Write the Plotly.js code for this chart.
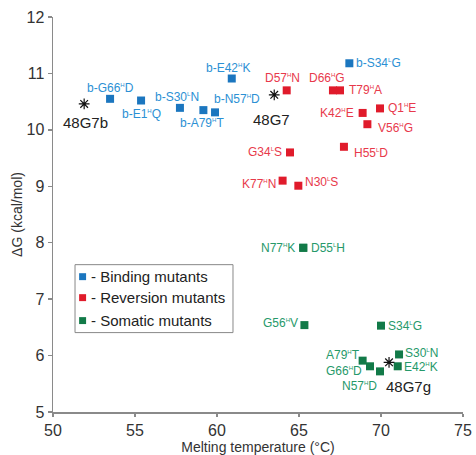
<!DOCTYPE html>
<html>
<head>
<meta charset="utf-8">
<script src="https://cdn.plot.ly/plotly-3.0.1.min.js"></script>
<style>html,body{margin:0;padding:0;background:#fff}#chart{width:476px;height:455px}</style>
</head>
<body>
<div id="chart"></div>
<script>
// ---- data ----
var bindingNames = ["b-G66|H|D","b-E1|H|Q","b-S30|L|N","b-A79|H|T","b-N57|H|D","b-E42|H|K","b-S34|L|G"];
var bindingTm = [53.48, 55.37, 57.74, 59.17, 59.88, 60.9, 68.07];
var bindingDG = [10.55, 10.52, 10.39, 10.35, 10.31, 10.91, 11.18];

var reversionNames = ["D57|H|N","D66|H|G","T79|H|A","K42|H|E","Q1|H|E","V56|H|G","G34|L|S","H55|L|D","K77|H|N","N30|L|S"];
var reversionTm = [64.25, 67.07, 67.5, 68.88, 69.94, 69.17, 64.45, 67.74, 64.0, 64.96];
var reversionDG = [10.70, 10.70, 10.70, 10.30, 10.38, 10.10, 9.60, 9.70, 9.10, 9.01];

var somaticNames = ["N77|H|K","D55|L|H","G56|H|V","S34|L|G","A79|H|T","G66|H|D","N57|H|D","S30|L|N","E42|H|K"];
var somaticTm = [65.26, 65.26, 65.33, 70.0, 68.88, 69.33, 69.94, 71.10, 71.02];
var somaticDG = [7.91, 7.91, 6.54, 6.53, 5.91, 5.81, 5.72, 6.02, 5.81];

var germNames = ["48G7b","48G7","48G7g"];
var germTm = [51.9, 63.49, 70.49];
var germDG = [10.46, 10.62, 5.88];

var legendNames = ["- Binding mutants","- Reversion mutants","- Somatic mutants"];

// ---- style (label placement: [xanchor, xshift, yshift]) ----
var bindingLab = [["center",0,11],["center",0,-13],["center",-3,11],["center",-1,-13],["center",22,13],["center",-4,11],["left",6,0]];
var reversionLab = [["center",-4,12],["center",-6,12],["left",8,0],["right",-8,0],["left",7,0],["left",10,-4],["right",-7,0],["left",9,-6],["right",-6,-3],["left",6,4]];
var somaticLab = [["right",-7,0],["left",7,0],["right",-5,2],["left",6,0],["right",-2,6],["right",-7,-5],["right",-2,-15],["left",5,1],["left",5,-1]];
var germLab = [["center",1,-19],["center",-3,-25],["left",-4,-24]];

var C = {
  blue: {m:"#1b76bf", t:"#2b90d4"},
  red: {m:"#e01b2b", t:"#e8394b"},
  green: {m:"#127a48", t:"#26996a"}
};
var FONT = "Liberation Sans, Arial, sans-serif";

// render "X|s|Y" as X + tiny superscript s + Y
function fmt(name) {
  var p = name.split("|");
  if (p.length < 3) return name;
  return p[0] + "<sup><span style='font-size:6px'>" + p[1] + "</span></sup>" + p[2];
}

function pts(x, y, col) {
  return {type:"scatter", mode:"markers", x:x, y:y, showlegend:false, hoverinfo:"skip",
    marker:{symbol:"square", size:8, color:col, line:{width:0}}, cliponaxis:false};
}
var traces = [
  pts(bindingTm, bindingDG, C.blue.m),
  pts(reversionTm, reversionDG, C.red.m),
  pts(somaticTm, somaticDG, C.green.m),
  {type:"scatter", mode:"markers", x:germTm, y:germDG, showlegend:false, hoverinfo:"skip",
    marker:{symbol:"asterisk-open", size:9, color:"#111", line:{width:1.2, color:"#111"}}}
];

var annotations = [];
function addLabels(names, xs, ys, lab, color, size) {
  for (var i = 0; i < names.length; i++) {
    annotations.push({x:xs[i], y:ys[i], xref:"x", yref:"y", text:fmt(names[i]), showarrow:false,
      xanchor:lab[i][0], yanchor:"middle", xshift:lab[i][1], yshift:lab[i][2], borderpad:0,
      font:{family:FONT, size:size, color:color}});
  }
}
addLabels(bindingNames, bindingTm, bindingDG, bindingLab, C.blue.t, 12);
addLabels(reversionNames, reversionTm, reversionDG, reversionLab, C.red.t, 12);
addLabels(somaticNames, somaticTm, somaticDG, somaticLab, C.green.t, 12);
addLabels(germNames, germTm, germDG, germLab, "#222", 15);

// manual legend (paper coordinates)
var shapes = [{type:"rect", xref:"paper", yref:"paper", x0:0.0537, x1:0.439, y0:0.201, y1:0.373,
  line:{color:"#888", width:1}, fillcolor:"#fff", layer:"below"}];
var legCols = [C.blue.m, C.red.m, C.green.m];
var legY = [0.3426, 0.2895, 0.2314];
for (var k = 0; k < legendNames.length; k++) {
  shapes.push({type:"rect", xref:"paper", yref:"paper", x0:0.0637, x1:0.0807, y0:legY[k]-0.0088, y1:legY[k]+0.0088,
    line:{width:0}, fillcolor:legCols[k]});
  annotations.push({xref:"paper", yref:"paper", x:0.088, y:legY[k], text:legendNames[k], showarrow:false,
    xanchor:"left", yanchor:"middle", font:{family:FONT, size:15, color:"#222"}});
}

var axisCommon = {showgrid:false, zeroline:false, showline:true, linecolor:"#8a8a8a", linewidth:1.5,
  ticks:"outside", ticklen:4, tickwidth:1.5, tickcolor:"#8a8a8a",
  tickfont:{family:FONT, size:16, color:"#333"}};

var layout = {
  width:476, height:455,
  margin:{l:53, r:13, t:17, b:42.5},
  paper_bgcolor:"#fff", plot_bgcolor:"#fff",
  font:{family:FONT},
  xaxis:Object.assign({}, axisCommon, {range:[50,75], tickvals:[50,55,60,65,70,75], ticklen:3,
    title:{text:"Melting temperature (°C)", font:{family:FONT, size:14, color:"#333"}, standoff:0}}),
  yaxis:Object.assign({}, axisCommon, {range:[5,12], tickvals:[5,6,7,8,9,10,11,12],
    title:{text:"ΔG (kcal/mol)", font:{family:FONT, size:14, color:"#333"}, standoff:0}}),
  shapes:shapes,
  annotations:annotations
};

Plotly.newPlot("chart", traces, layout, {staticPlot:true, displayModeBar:false});
</script>
</body>
</html>
